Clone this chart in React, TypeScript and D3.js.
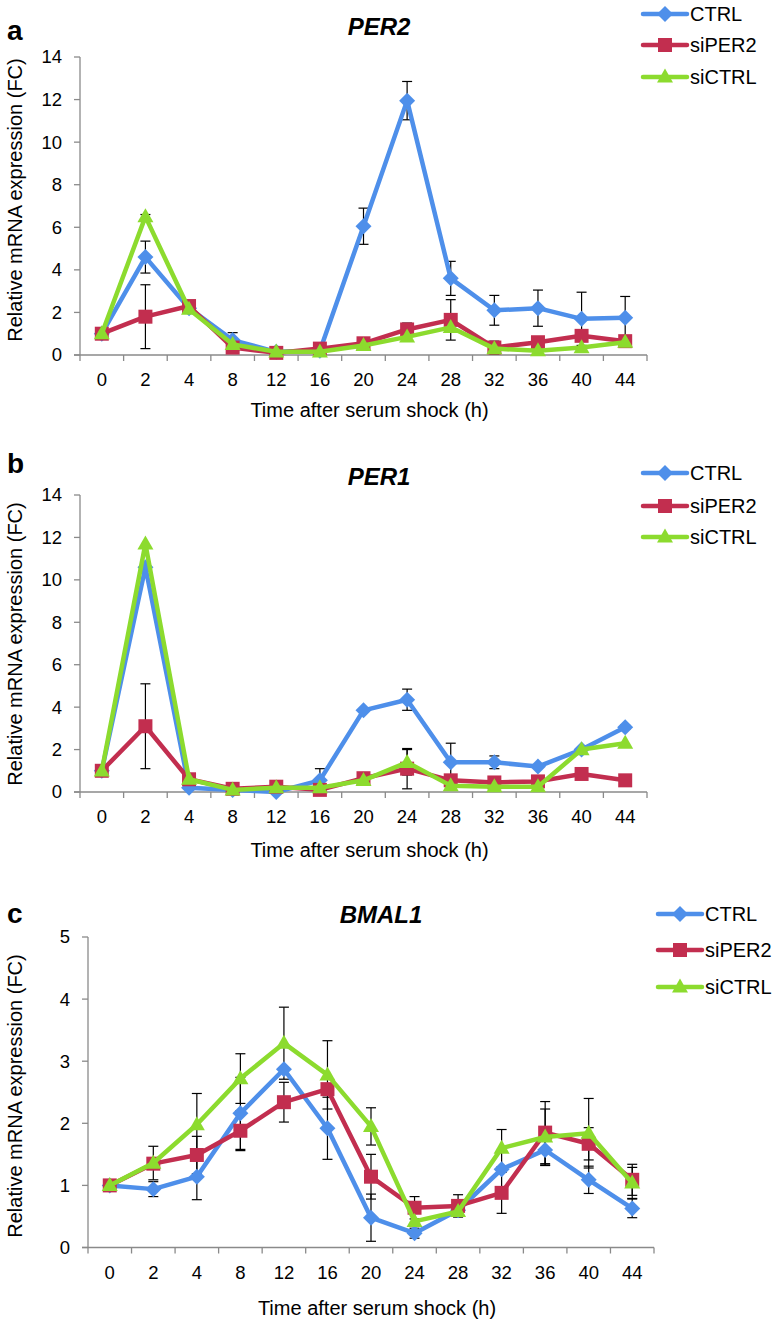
import React from 'react';
import * as d3 from 'd3';

// ---------- data ----------
const categories = ["0", "2", "4", "8", "12", "16", "20", "24", "28", "32", "36", "40", "44"];
const seriesNames = ["CTRL", "siPER2", "siCTRL"];

// Panel a: PER2
const per2Ctrl = [1.0, 4.6, 2.2, 0.7, 0.15, 0.2, 6.05, 11.95, 3.6, 2.1, 2.2, 1.7, 1.75];
const per2CtrlErr = [0, 0.75, 0, 0.35, 0, 0, 0.85, 0.9, 0.8, 0.7, 0.85, 1.25, 1.0];
const per2SiPer2 = [1.0, 1.8, 2.3, 0.35, 0.1, 0.3, 0.55, 1.2, 1.65, 0.35, 0.6, 0.9, 0.65];
const per2SiPer2Err = [0, 1.5, 0, 0, 0, 0, 0, 0.3, 0.95, 0.3, 0, 0, 0];
const per2SiCtrl = [1.0, 6.5, 2.15, 0.5, 0.15, 0.15, 0.45, 0.85, 1.3, 0.3, 0.2, 0.35, 0.6];
const per2SiCtrlErr = [0, 0.1, 0, 0, 0, 0, 0, 0, 0, 0, 0, 0, 0];

// Panel b: PER1
const per1Ctrl = [1.0, 10.6, 0.2, 0.1, 0.0, 0.55, 3.85, 4.35, 1.4, 1.4, 1.2, 2.0, 3.05];
const per1CtrlErr = [0, 0.2, 0, 0, 0, 0.55, 0, 0.5, 0.9, 0.3, 0, 0, 0.1];
const per1SiPer2 = [1.0, 3.1, 0.6, 0.15, 0.25, 0.1, 0.65, 1.1, 0.55, 0.45, 0.5, 0.85, 0.55];
const per1SiPer2Err = [0, 2.0, 0, 0, 0, 0, 0, 0.95, 0, 0, 0, 0, 0];
const per1SiCtrl = [1.0, 11.7, 0.6, 0.1, 0.2, 0.2, 0.55, 1.4, 0.3, 0.25, 0.25, 2.0, 2.3];
const per1SiCtrlErr = [0, 0, 0, 0, 0, 0, 0, 0.6, 0, 0, 0, 0, 0];

// Panel c: BMAL1
const bmal1Ctrl = [1.0, 0.94, 1.14, 2.16, 2.87, 1.92, 0.48, 0.23, 0.6, 1.26, 1.57, 1.09, 0.63];
const bmal1CtrlErr = [0, 0.12, 0.37, 0.58, 0, 0.5, 0.38, 0.08, 0, 0, 0.25, 0.22, 0.15];
const bmal1SiPer2 = [1.0, 1.35, 1.49, 1.88, 2.34, 2.55, 1.14, 0.64, 0.67, 0.88, 1.85, 1.67, 1.09];
const bmal1SiPer2Err = [0, 0, 0.3, 0.32, 0.32, 0, 0.36, 0.18, 0.18, 0.33, 0.5, 0.26, 0.25];
const bmal1SiCtrl = [1.0, 1.36, 1.98, 2.72, 3.29, 2.78, 1.95, 0.42, 0.58, 1.6, 1.78, 1.84, 1.04];
const bmal1SiCtrlErr = [0, 0.27, 0.5, 0.4, 0.58, 0.55, 0.3, 0, 0, 0.3, 0.45, 0.56, 0.25];

const perTicks = [0, 2, 4, 6, 8, 10, 12, 14];
const bmalTicks = [0, 1, 2, 3, 4, 5];

// ---------- styles ----------
const COLORS = ["#4E8FEA", "#C22E4F", "#8CDB2E"];
const SHAPES = ["diamond", "square", "triangle"];
const FONT = "'Liberation Sans', Arial, Helvetica, sans-serif";
const AXIS = "#8a8a8a";

type Series = { values: number[]; errs: number[] };
type Cfg = {
  x0: number; x1: number; yTop: number; yBottom: number;
  letterY: number; titleY: number; titleX: number;
  legendX: number; legendY: number[];
  yTitleY: number; xTitleY: number;
};

function markerPath(shape: string, cx: number, cy: number): string {
  if (shape === "diamond") {
    const h = 8;
    return `M${cx},${cy - h}L${cx + h},${cy}L${cx},${cy + h}L${cx - h},${cy}Z`;
  }
  if (shape === "square") {
    const h = 7;
    return `M${cx - h},${cy - h}H${cx + h}V${cy + h}H${cx - h}Z`;
  }
  const w = 8, ht = 14;
  return `M${cx},${cy - ht * 0.6}L${cx + w},${cy + ht * 0.4}L${cx - w},${cy + ht * 0.4}Z`;
}

function Panel({ cfg, series, ticks, title, letter }: { cfg: Cfg; series: Series[]; ticks: number[]; title: string; letter: string }) {
  const x = d3.scaleBand<string>().domain(categories).range([cfg.x0, cfg.x1]);
  const y = d3.scaleLinear().domain([0, ticks[ticks.length - 1]]).range([cfg.yBottom, cfg.yTop]);
  const cx = (i: number) => (x(categories[i]) as number) + x.bandwidth() / 2;
  const line = d3.line<number>().x((_, i) => cx(i)).y((d) => y(d));
  const bounds = categories.map((c) => x(c) as number).concat([cfg.x1]);
  const midX = (cfg.x0 + cfg.x1) / 2;

  return (
    <g>
      <text x={7} y={cfg.letterY} fontFamily={FONT} fontWeight="bold" fontSize={28}>{letter}</text>
      <text x={cfg.titleX} y={cfg.titleY} fontFamily={FONT} fontWeight="bold" fontStyle="italic" fontSize={24} textAnchor="middle">{title}</text>

      {/* y axis */}
      <line x1={cfg.x0} x2={cfg.x0} y1={y(ticks[ticks.length - 1])} y2={cfg.yBottom} stroke={AXIS} strokeWidth={1.3} />
      {ticks.map((t) => (
        <g key={"yt" + t}>
          <line x1={cfg.x0 - 6} x2={cfg.x0} y1={y(t)} y2={y(t)} stroke={AXIS} strokeWidth={1.3} />
          <text x={cfg.x0 - 18} y={y(t)} dy="0.35em" textAnchor="end" fontFamily={FONT} fontSize={18.5}>{t}</text>
        </g>
      ))}
      {/* x axis */}
      <line x1={cfg.x0 - 6} x2={cfg.x1} y1={cfg.yBottom} y2={cfg.yBottom} stroke={AXIS} strokeWidth={1.3} />
      {bounds.map((b, i) => (
        <line key={"xt" + i} x1={b} x2={b} y1={cfg.yBottom} y2={cfg.yBottom + 6} stroke={AXIS} strokeWidth={1.3} />
      ))}
      {categories.map((c, i) => (
        <text key={"xl" + c} x={cx(i)} y={cfg.yBottom + 25} dy="0.35em" textAnchor="middle" fontFamily={FONT} fontSize={18.5}>{c}</text>
      ))}
      <text x={midX + 6} y={cfg.xTitleY} textAnchor="middle" fontFamily={FONT} fontSize={20}>Time after serum shock (h)</text>
      <text transform={`translate(15,${cfg.yTitleY}) rotate(-90)`} textAnchor="middle" dy="0.35em" fontFamily={FONT} fontSize={20}>Relative mRNA expression (FC)</text>

      {/* error bars */}
      {series.map((s, si) =>
        s.values.map((v, i) => {
          const e = s.errs[i];
          if (!e) return null;
          const px = cx(i);
          const top = y(v + e), bot = y(Math.max(0, v - e));
          return (
            <g key={`e${si}-${i}`} stroke="#000" strokeWidth={1.2}>
              <line x1={px} x2={px} y1={top} y2={bot} />
              <line x1={px - 5} x2={px + 5} y1={top} y2={top} />
              <line x1={px - 5} x2={px + 5} y1={bot} y2={bot} />
            </g>
          );
        })
      )}

      {/* series */}
      {series.map((s, si) => (
        <g key={"s" + si}>
          <path d={line(s.values) as string} fill="none" stroke={COLORS[si]} strokeWidth={4.5} strokeLinejoin="round" />
          {s.values.map((v, i) => (
            <path key={i} d={markerPath(SHAPES[si], cx(i), y(v))} fill={COLORS[si]} />
          ))}
        </g>
      ))}

      {/* legend */}
      {seriesNames.map((n, si) => (
        <g key={"lg" + n}>
          <line x1={cfg.legendX} x2={cfg.legendX + 44} y1={cfg.legendY[si]} y2={cfg.legendY[si]} stroke={COLORS[si]} strokeWidth={4.5} strokeLinecap="round" />
          <path d={markerPath(SHAPES[si], cfg.legendX + 22, cfg.legendY[si])} fill={COLORS[si]} />
          <text x={cfg.legendX + 47} y={cfg.legendY[si]} dy="0.35em" fontFamily={FONT} fontSize={20}>{n}</text>
        </g>
      ))}
    </g>
  );
}

const cfgA: Cfg = { x0: 80, x1: 647, yTop: 57, yBottom: 355, letterY: 40, titleY: 35, titleX: 379, legendX: 643, legendY: [14, 45, 77], yTitleY: 200, xTitleY: 417 };
const cfgB: Cfg = { x0: 80, x1: 647, yTop: 495, yBottom: 792, letterY: 473, titleY: 485, titleX: 379, legendX: 643, legendY: [473, 506, 537], yTitleY: 644, xTitleY: 857 };
const cfgC: Cfg = { x0: 88, x1: 654, yTop: 937, yBottom: 1247.5, letterY: 923, titleY: 923, titleX: 381, legendX: 658, legendY: [914, 950, 987], yTitleY: 1096, xTitleY: 1315 };

export default function App() {
  const a: Series[] = [
    { values: per2Ctrl, errs: per2CtrlErr },
    { values: per2SiPer2, errs: per2SiPer2Err },
    { values: per2SiCtrl, errs: per2SiCtrlErr },
  ];
  const b: Series[] = [
    { values: per1Ctrl, errs: per1CtrlErr },
    { values: per1SiPer2, errs: per1SiPer2Err },
    { values: per1SiCtrl, errs: per1SiCtrlErr },
  ];
  const c: Series[] = [
    { values: bmal1Ctrl, errs: bmal1CtrlErr },
    { values: bmal1SiPer2, errs: bmal1SiPer2Err },
    { values: bmal1SiCtrl, errs: bmal1SiCtrlErr },
  ];
  return (
    <svg width={772} height={1321} style={{ position: 'absolute', left: 0, top: 0, background: '#fff' }}>
      <rect width={772} height={1321} fill="#fff" />
      <Panel cfg={cfgA} series={a} ticks={perTicks} title="PER2" letter="a" />
      <Panel cfg={cfgB} series={b} ticks={perTicks} title="PER1" letter="b" />
      <Panel cfg={cfgC} series={c} ticks={bmalTicks} title="BMAL1" letter="c" />
    </svg>
  );
}
